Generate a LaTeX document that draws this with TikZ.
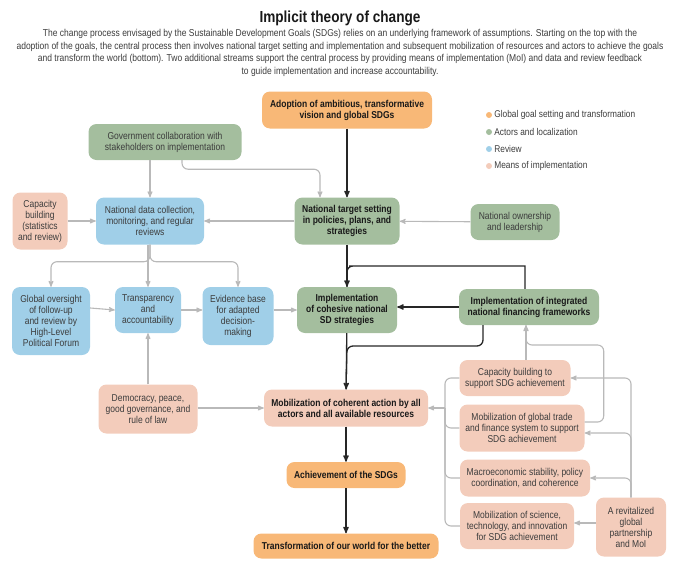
\documentclass[tikz,border=0pt]{standalone}
\usepackage{fontspec}
\setmainfont{Liberation Sans}[FakeStretch=0.85]
\usetikzlibrary{arrows,calc,positioning}
\definecolor{goalc}{HTML}{F8B877}
\definecolor{actc}{HTML}{A4BE9E}
\definecolor{revc}{HTML}{A0CFE8}
\definecolor{moic}{HTML}{F3CCBB}
\definecolor{linec}{HTML}{B9B9B9}
\definecolor{txtc}{HTML}{3C3C3C}
\tikzset{box/.style={rounded corners=8pt,align=center,inner sep=2pt,text=txtc,font=\fontsize{10}{11}\selectfont}}
\tikzset{strong/.style={box,text=black!90,font=\fontsize{10}{11}\selectfont\bfseries}}
\tikzset{sz/.style 2 args={minimum width=#1pt,minimum height=#2pt}}
\tikzset{goal/.style={fill=goalc},actor/.style={fill=actc},review/.style={fill=revc},means/.style={fill=moic}}
\tikzset{flow/.style={draw=black!85,line width=1.3pt,-stealth'}}
\tikzset{feed/.style={draw=linec,line width=1.1pt,-stealth'}}
\tikzset{dot/.style={circle,inner sep=0pt,minimum size=6pt}}
\tikzset{legend/.style={inner sep=1pt,text=txtc,font=\fontsize{9.8}{11}\selectfont}}

\begin{document}
\begin{tikzpicture}[x=1pt,y=-1pt]
\useasboundingbox (0,0) rectangle (680,573);
\node (title) at (340,18) [font=\fontsize{16}{18}\selectfont\bfseries,text=black!90] {Implicit theory of change};
\node (desc) at (340,53) [align=center,text=txtc,font=\fontsize{10}{12.8}\selectfont] {The change process envisaged by the Sustainable Development Goals (SDGs) relies on an underlying framework of assumptions. Starting on the top with the\\
adoption of the goals, the central process then involves national target setting and implementation and subsequent mobilization of resources and actors to achieve the goals\\
and transform the world (bottom). Two additional streams support the central process by providing means of implementation (MoI) and data and review feedback\\
to guide implementation and increase accountability.};

\node (dot1) at (489,115) [dot,goal] {};
\node (lab1) [legend,right=1pt of dot1] {Global goal setting and transformation};
\node (dot2) at (489,132) [dot,actor] {};
\node (lab2) [legend,right=1pt of dot2] {Actors and localization};
\node (dot3) at (489,149) [dot,review] {};
\node (lab3) [legend,right=1pt of dot3] {Review};
\node (dot4) at (489,166) [dot,means] {};
\node (lab4) [legend,right=1pt of dot4] {Means of implementation};

\node (adopt) at (347,110) [strong,goal,sz={170}{37}] {Adoption of ambitious, transformative\\vision and global SDGs};
\node (govt) at (165,142) [box,actor,sz={153}{36}] {Government collaboration with\\stakeholders on implementation};
\node (capstat) at (40,221) [box,means,sz={55}{57}] {Capacity\\building\\(statistics\\and review)};
\node (data) at (150,221) [box,review,sz={108}{47}] {National data collection,\\monitoring, and regular\\reviews};
\node (target) at (347,221) [strong,actor,sz={105}{47}] {National target setting\\in policies, plans, and\\strategies};
\node (own) at (515,222) [box,actor,sz={89}{36}] {National ownership\\and leadership};
\node (oversight) at (51,321) [box,review,sz={78}{68}] {Global oversight\\of follow-up\\and review by\\High-Level\\Political Forum};
\node (transp) at (148,310) [box,review,sz={66}{46}] {Transparency\\and\\accountability};
\node (evidence) at (238,316) [box,review,sz={71}{58}] {Evidence base\\for adapted\\decision-\\making};
\node (cohesive) at (347,310) [strong,actor,sz={100}{46}] {Implementation\\of cohesive national\\SD strategies};
\node (finance) at (529,307) [strong,actor,sz={140}{36}] {Implementation of integrated\\national financing frameworks};
\node (democ) at (148,409) [box,means,sz={99}{49}] {Democracy, peace,\\good governance, and\\rule of law};
\node (mobil) at (346,408) [strong,means,sz={164}{37}] {Mobilization of coherent action by all\\actors and all available resources};
\node (capsup) at (515,378) [box,means,sz={111}{36}] {Capacity building to\\support SDG achievement};
\node (trade) at (522,428) [box,means,sz={125}{47}] {Mobilization of global trade\\and finance system to support\\SDG achievement};
\node (macro) at (525,478) [box,means,sz={130}{37}] {Macroeconomic stability, policy\\coordination, and coherence};
\node (science) at (517,526) [box,means,sz={114}{46}] {Mobilization of science,\\technology, and innovation\\for SDG achievement};
\node (revital) at (631,527) [box,means,sz={70}{59}] {A revitalized\\global\\partnership\\and MoI};
\node (achieve) at (346,475) [strong,goal,sz={119}{26}] {Achievement of the SDGs};
\node (transform) at (346,546) [strong,goal,sz={185}{25}] {Transformation of our world for the better};

\coordinate (upjoin) at (347,266);
\coordinate (lowjoin) at (347,346);
\coordinate (brk) at (445,408);

\draw[flow] (adopt) -- (target);
\draw[flow] (target) -- (cohesive);
\draw[flow,-] ([xshift=-4pt]finance.north) |- ([xshift=2pt]upjoin) [rounded corners=6pt] -- (upjoin) -- (cohesive.north);
\draw[flow,rounded corners=6pt] (finance.west) -- (finance.west -| cohesive.east);
\draw[flow] (cohesive) -- (mobil);
\draw[flow,-,rounded corners=6pt] ([xshift=-46pt]finance.south) |- (lowjoin) -- (mobil.north);
\draw[flow] (mobil) -- (achieve);
\draw[flow] (achieve) -- (transform);

\draw[feed] (data.north |- govt.south) -- (data.north);
\draw[feed,rounded corners=6pt] ([xshift=17pt]govt.south) -- ++(0,9) -| ([xshift=-27pt]target.north);
\draw[feed] (capstat) -- (data);
\draw[feed] (target) -- (data);
\draw[feed] (own) -- (target);
\draw[feed,rounded corners=6pt] (data.south) -- ++(0,17) -| (oversight.north);
\draw[feed,rounded corners=6pt] (data.south) -- ++(0,17) -| (evidence.north);
\draw[feed] (data.south -| transp.north) -- (transp.north);
\draw[feed] ([yshift=13pt]oversight.east) -- (transp.west);
\draw[feed] (transp.east) -- (transp.east -| evidence.west);
\draw[feed] (evidence.east |- cohesive.west) -- (cohesive.west);
\draw[feed] (democ) -- (transp);
\draw[feed] (democ.east |- mobil.west) -- (mobil.west);

\draw[feed] ([xshift=11pt]capsup.north) -- ([xshift=-3pt]finance.south);
\draw[feed,rounded corners=6pt] ([yshift=6pt]trade.east) -| ++(19,-77) -| ([xshift=-3pt]finance.south);
\draw[feed,-,rounded corners=6pt] (capsup.west) -| (brk);
\draw[feed,-,rounded corners=6pt] (trade.west) -| (brk);
\draw[feed,-,rounded corners=6pt] (macro.west) -| (brk);
\draw[feed,-,rounded corners=6pt] (science.west) -| (brk);
\draw[feed] (brk) -- (mobil.east);
\draw[feed,rounded corners=6pt] (revital.north) |- (capsup.east);
\draw[feed,rounded corners=6pt] (revital.north) |- ([yshift=-5pt]trade.east);
\draw[feed,rounded corners=6pt] (revital.north) |- (macro.east);
\draw[feed] ([yshift=4pt]revital.west) -- ([yshift=4pt]revital.west -| science.east);
\end{tikzpicture}
\end{document}
